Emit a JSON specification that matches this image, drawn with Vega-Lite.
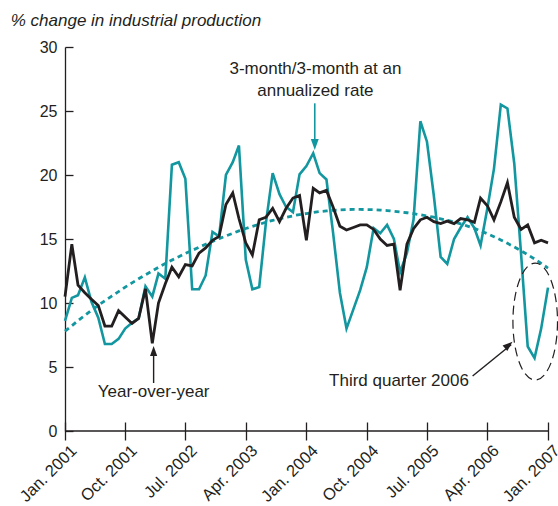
{
  "$schema": "https://vega.github.io/schema/vega-lite/v6.json",
  "width": 483,
  "height": 384,
  "autosize": {"type": "none"},
  "padding": {"left": 65, "top": 47, "right": 10, "bottom": 75},
  "background": "white",
  "config": {
    "view": {"stroke": null},
    "font": "Liberation Sans",
    "axis": {"domainColor": "#231f20", "domainWidth": 1.3, "tickColor": "#231f20", "tickWidth": 1.3, "labelColor": "#231f20", "labelFont": "Liberation Sans", "labelFontSize": 16, "grid": false, "title": null}
  },
  "title": {"text": "% change in industrial production", "anchor": "start", "frame": "bounds", "fontStyle": "italic", "fontWeight": "normal", "fontSize": 17, "font": "Liberation Sans", "color": "#231f20", "offset": 9, "dx": -6},
  "datasets": {
    "series": [
      {"date": "2001-01-01", "yoy": 10.5, "ann": 8.6, "trend": 7.8},
      {"date": "2001-02-01", "yoy": 14.6, "ann": 10.4, "trend": 8.22},
      {"date": "2001-03-01", "yoy": 11.4, "ann": 10.6, "trend": 8.63},
      {"date": "2001-04-01", "yoy": 10.8, "ann": 12.0, "trend": 9.03},
      {"date": "2001-05-01", "yoy": 10.3, "ann": 10.1, "trend": 9.43},
      {"date": "2001-06-01", "yoy": 9.8, "ann": 8.85, "trend": 9.81},
      {"date": "2001-07-01", "yoy": 8.2, "ann": 6.8, "trend": 10.18},
      {"date": "2001-08-01", "yoy": 8.2, "ann": 6.8, "trend": 10.54},
      {"date": "2001-09-01", "yoy": 9.4, "ann": 7.2, "trend": 10.89},
      {"date": "2001-10-01", "yoy": 8.9, "ann": 8.0, "trend": 11.24},
      {"date": "2001-11-01", "yoy": 8.4, "ann": 8.45, "trend": 11.57},
      {"date": "2001-12-01", "yoy": 8.8, "ann": 8.8, "trend": 11.89},
      {"date": "2002-01-01", "yoy": 11.1, "ann": 11.3, "trend": 12.2},
      {"date": "2002-02-01", "yoy": 6.85, "ann": 10.5, "trend": 12.5},
      {"date": "2002-03-01", "yoy": 10.0, "ann": 12.3, "trend": 12.79},
      {"date": "2002-04-01", "yoy": 11.5, "ann": 11.9, "trend": 13.08},
      {"date": "2002-05-01", "yoy": 12.8, "ann": 20.8, "trend": 13.35},
      {"date": "2002-06-01", "yoy": 12.05, "ann": 21.0, "trend": 13.61},
      {"date": "2002-07-01", "yoy": 13.0, "ann": 19.7, "trend": 13.87},
      {"date": "2002-08-01", "yoy": 12.9, "ann": 11.07, "trend": 14.11},
      {"date": "2002-09-01", "yoy": 13.9, "ann": 11.07, "trend": 14.35},
      {"date": "2002-10-01", "yoy": 14.3, "ann": 12.15, "trend": 14.59},
      {"date": "2002-11-01", "yoy": 14.9, "ann": 15.55, "trend": 14.81},
      {"date": "2002-12-01", "yoy": 15.2, "ann": 15.2, "trend": 15.03},
      {"date": "2003-01-01", "yoy": 17.7, "ann": 20.0, "trend": 15.24},
      {"date": "2003-02-01", "yoy": 18.6, "ann": 21.0, "trend": 15.44},
      {"date": "2003-03-01", "yoy": 16.6, "ann": 22.3, "trend": 15.63},
      {"date": "2003-04-01", "yoy": 14.7, "ann": 13.4, "trend": 15.82},
      {"date": "2003-05-01", "yoy": 13.75, "ann": 11.07, "trend": 15.99},
      {"date": "2003-06-01", "yoy": 16.5, "ann": 11.25, "trend": 16.15},
      {"date": "2003-07-01", "yoy": 16.7, "ann": 16.2, "trend": 16.31},
      {"date": "2003-08-01", "yoy": 17.4, "ann": 20.15, "trend": 16.45},
      {"date": "2003-09-01", "yoy": 16.35, "ann": 18.5, "trend": 16.58},
      {"date": "2003-10-01", "yoy": 17.4, "ann": 17.5, "trend": 16.7},
      {"date": "2003-11-01", "yoy": 18.2, "ann": 17.1, "trend": 16.81},
      {"date": "2003-12-01", "yoy": 18.4, "ann": 20.05, "trend": 16.91},
      {"date": "2004-01-01", "yoy": 14.9, "ann": 20.7, "trend": 16.99},
      {"date": "2004-02-01", "yoy": 18.96, "ann": 21.7, "trend": 17.07},
      {"date": "2004-03-01", "yoy": 18.6, "ann": 20.15, "trend": 17.14},
      {"date": "2004-04-01", "yoy": 18.8, "ann": 19.65, "trend": 17.19},
      {"date": "2004-05-01", "yoy": 17.5, "ann": 15.5, "trend": 17.24},
      {"date": "2004-06-01", "yoy": 16.0, "ann": 10.8, "trend": 17.27},
      {"date": "2004-07-01", "yoy": 15.7, "ann": 8.0, "trend": 17.3},
      {"date": "2004-08-01", "yoy": 15.9, "ann": 9.5, "trend": 17.31},
      {"date": "2004-09-01", "yoy": 16.1, "ann": 11.0, "trend": 17.31},
      {"date": "2004-10-01", "yoy": 16.1, "ann": 12.8, "trend": 17.3},
      {"date": "2004-11-01", "yoy": 15.75, "ann": 15.85, "trend": 17.29},
      {"date": "2004-12-01", "yoy": 15.0, "ann": 15.45, "trend": 17.26},
      {"date": "2005-01-01", "yoy": 14.5, "ann": 16.1, "trend": 17.22},
      {"date": "2005-02-01", "yoy": 14.6, "ann": 15.0, "trend": 17.17},
      {"date": "2005-03-01", "yoy": 11.0, "ann": 12.4, "trend": 17.12},
      {"date": "2005-04-01", "yoy": 14.6, "ann": 13.9, "trend": 17.05},
      {"date": "2005-05-01", "yoy": 15.8, "ann": 16.5, "trend": 16.98},
      {"date": "2005-06-01", "yoy": 16.5, "ann": 24.2, "trend": 16.89},
      {"date": "2005-07-01", "yoy": 16.7, "ann": 22.6, "trend": 16.8},
      {"date": "2005-08-01", "yoy": 16.35, "ann": 18.4, "trend": 16.7},
      {"date": "2005-09-01", "yoy": 16.2, "ann": 13.6, "trend": 16.58},
      {"date": "2005-10-01", "yoy": 16.4, "ann": 13.05, "trend": 16.46},
      {"date": "2005-11-01", "yoy": 16.2, "ann": 15.0, "trend": 16.33},
      {"date": "2005-12-01", "yoy": 16.6, "ann": 15.9, "trend": 16.18},
      {"date": "2006-01-01", "yoy": 16.5, "ann": 16.7, "trend": 16.01},
      {"date": "2006-02-01", "yoy": 16.3, "ann": 15.85, "trend": 15.83},
      {"date": "2006-03-01", "yoy": 18.2, "ann": 14.5, "trend": 15.63},
      {"date": "2006-04-01", "yoy": 17.6, "ann": 17.4, "trend": 15.41},
      {"date": "2006-05-01", "yoy": 16.5, "ann": 20.5, "trend": 15.18},
      {"date": "2006-06-01", "yoy": 17.9, "ann": 25.5, "trend": 14.93},
      {"date": "2006-07-01", "yoy": 19.4, "ann": 25.2, "trend": 14.66},
      {"date": "2006-08-01", "yoy": 16.7, "ann": 20.9, "trend": 14.38},
      {"date": "2006-09-01", "yoy": 15.75, "ann": 13.8, "trend": 14.08},
      {"date": "2006-10-01", "yoy": 16.1, "ann": 6.6, "trend": 13.77},
      {"date": "2006-11-01", "yoy": 14.7, "ann": 5.7, "trend": 13.44},
      {"date": "2006-12-01", "yoy": 14.9, "ann": 8.0, "trend": 13.09},
      {"date": "2007-01-01", "yoy": 14.7, "ann": 11.2, "trend": 12.73}
    ],
    "notes": [
      {"date": "2004-02-11", "value": 28.3, "label": "3-month/3-month at an"},
      {"date": "2004-02-11", "value": 26.6, "label": "annualized rate"},
      {"date": "2002-02-07", "value": 3.05, "label": "Year-over-year"},
      {"date": "2005-02-24", "value": 3.9, "label": "Third quarter 2006"}
    ],
    "baseline": [{"date": "2001-01-01", "date2": "2007-01-01", "value": 0}],
    "tealArrow": [{"date": "2004-02-08", "from": 25.6, "to": 22.6, "tip": 21.95}],
    "upArrow": [{"date": "2002-02-07", "from": 3.75, "to": 6.0, "tip": 6.64}],
    "diagArrow": [{"date": "2006-01-24", "date2": "2006-07-18", "from": 4.3, "to": 6.75, "tipdate": "2006-07-24", "tip": 6.98}],
    "ellipse": [{"date": "2006-11-04", "value": 8.55}]
  },
  "layer": [
    {
      "data": {"name": "series"},
      "mark": {"type": "line", "color": "#12969f", "strokeWidth": 2.6},
      "encoding": {
        "x": {"field": "date", "type": "temporal",
          "scale": {"type": "utc", "domain": [{"year": 2001, "month": 1, "date": 1, "utc": true}, {"year": 2007, "month": 1, "date": 1, "utc": true}]},
          "axis": {"orient": "bottom", "values": [
            {"year": 2001, "month": 1, "date": 1, "utc": true},
            {"year": 2001, "month": 10, "date": 1, "utc": true},
            {"year": 2002, "month": 7, "date": 1, "utc": true},
            {"year": 2003, "month": 4, "date": 1, "utc": true},
            {"year": 2004, "month": 1, "date": 1, "utc": true},
            {"year": 2004, "month": 10, "date": 1, "utc": true},
            {"year": 2005, "month": 7, "date": 1, "utc": true},
            {"year": 2006, "month": 4, "date": 1, "utc": true},
            {"year": 2007, "month": 1, "date": 1, "utc": true}],
            "labelExpr": "utcFormat(datum.value, '%b. %Y')", "labelAngle": -45, "domain": false, "offset": -9, "tickSize": 18, "labelPadding": 2, "labelOffset": 3, "labelFontSize": 16.5, "labelFlush": false, "labelOverlap": false, "labelBound": false}},
        "y": {"field": "ann", "type": "quantitative",
          "scale": {"domain": [0, 30], "nice": false, "zero": true},
          "axis": {"values": [0, 5, 10, 15, 20, 25, 30], "tickSize": -8, "labelPadding": 16, "labelFontSize": 16}}
      }
    },
    {
      "data": {"name": "baseline"},
      "mark": {"type": "rule", "color": "#231f20", "strokeWidth": 1.3},
      "encoding": {
        "x": {"field": "date", "type": "temporal"},
        "x2": {"field": "date2"},
        "y": {"field": "value", "type": "quantitative"}
      }
    },
    {
      "data": {"name": "series"},
      "mark": {"type": "line", "color": "#12969f", "strokeWidth": 2.8, "strokeDash": [5, 4]},
      "encoding": {
        "x": {"field": "date", "type": "temporal"},
        "y": {"field": "trend", "type": "quantitative"}
      }
    },
    {
      "data": {"name": "series"},
      "mark": {"type": "line", "color": "#231f20", "strokeWidth": 2.8},
      "encoding": {
        "x": {"field": "date", "type": "temporal"},
        "y": {"field": "yoy", "type": "quantitative"}
      }
    },
    {
      "data": {"name": "notes"},
      "mark": {"type": "text", "fontSize": 17, "font": "Liberation Sans", "color": "#231f20", "align": "center", "baseline": "middle"},
      "encoding": {
        "x": {"field": "date", "type": "temporal"},
        "y": {"field": "value", "type": "quantitative"},
        "text": {"field": "label"}
      }
    },
    {
      "data": {"name": "tealArrow"},
      "mark": {"type": "rule", "color": "#12969f", "strokeWidth": 1.6},
      "encoding": {
        "x": {"field": "date", "type": "temporal"},
        "y": {"field": "from", "type": "quantitative"},
        "y2": {"field": "to"}
      }
    },
    {
      "data": {"name": "tealArrow"},
      "mark": {"type": "point", "shape": "M0,0L-0.36,-1L0.36,-1Z", "size": 484, "filled": true, "color": "#12969f", "opacity": 1, "strokeWidth": 0},
      "encoding": {
        "x": {"field": "date", "type": "temporal"},
        "y": {"field": "tip", "type": "quantitative"}
      }
    },
    {
      "data": {"name": "upArrow"},
      "mark": {"type": "rule", "color": "#231f20", "strokeWidth": 1.4},
      "encoding": {
        "x": {"field": "date", "type": "temporal"},
        "y": {"field": "from", "type": "quantitative"},
        "y2": {"field": "to"}
      }
    },
    {
      "data": {"name": "upArrow"},
      "mark": {"type": "point", "shape": "M0,0L-0.36,-1L0.36,-1Z", "size": 400, "angle": 180, "filled": true, "color": "#231f20", "opacity": 1, "strokeWidth": 0},
      "encoding": {
        "x": {"field": "date", "type": "temporal"},
        "y": {"field": "tip", "type": "quantitative"}
      }
    },
    {
      "data": {"name": "diagArrow"},
      "mark": {"type": "rule", "color": "#231f20", "strokeWidth": 1.4},
      "encoding": {
        "x": {"field": "date", "type": "temporal"},
        "x2": {"field": "date2"},
        "y": {"field": "from", "type": "quantitative"},
        "y2": {"field": "to"}
      }
    },
    {
      "data": {"name": "diagArrow"},
      "mark": {"type": "point", "shape": "M0,0L-0.36,-1L0.36,-1Z", "size": 400, "angle": 229, "filled": true, "color": "#231f20", "opacity": 1, "strokeWidth": 0},
      "encoding": {
        "x": {"field": "tipdate", "type": "temporal"},
        "y": {"field": "tip", "type": "quantitative"}
      }
    },
    {
      "data": {"name": "ellipse"},
      "mark": {"type": "point", "shape": "M0.381,0C0.381,0.5523,0.2104,1,0,1C-0.2104,1,-0.381,0.5523,-0.381,0C-0.381,-0.5523,-0.2104,-1,0,-1C0.2104,-1,0.381,-0.5523,0.381,0Z", "size": 13689, "filled": false, "color": "#231f20", "opacity": 1, "strokeWidth": 1.2, "strokeDash": [9, 5]},
      "encoding": {
        "x": {"field": "date", "type": "temporal"},
        "y": {"field": "value", "type": "quantitative"}
      }
    }
  ]
}
